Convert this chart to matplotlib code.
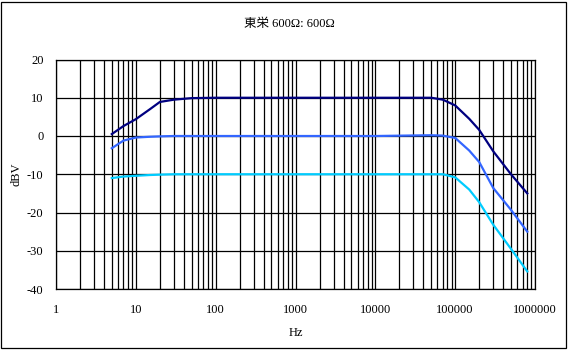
import matplotlib
matplotlib.use("Agg")
import matplotlib.pyplot as plt
from matplotlib.patches import Rectangle
from matplotlib.ticker import LogLocator, FixedLocator, NullFormatter

plt.rcParams['font.family'] = ['Liberation Serif', 'Noto Sans CJK JP']
plt.rcParams['axes.unicode_minus'] = False

freq = [5, 7, 10, 15, 20, 30, 50, 100, 1000, 10000, 50000, 70000,
        100000, 150000, 200000, 300000, 500000, 800000]
navy = [0.5, 2.6, 4.4, 7.0, 8.9, 9.5, 9.9, 10.0, 10.0, 10.0, 10.0, 9.5,
        8.0, 4.5, 1.6, -4.0, -10.0, -15.0]
blue = [-3.2, -1.2, -0.4, -0.2, -0.1, 0.0, 0.0, 0.0, 0.0, 0.0, 0.2, 0.1,
        -0.5, -3.8, -6.8, -13.6, -19.3, -25.0]
cyan = [-11.0, -10.6, -10.4, -10.2, -10.1, -10.0, -10.0, -10.0, -10.0, -10.0, -10.0, -10.0,
        -10.8, -14.0, -17.3, -23.2, -29.5, -35.4]
xticks = [1, 10, 100, 1000, 10000, 100000, 1000000]
xticklabels = ["1", "10", "100", "1000", "10000", "100000", "1000000"]
yticks = [-40, -30, -20, -10, 0, 10, 20]

fig = plt.figure(figsize=(5.68, 3.5), dpi=100)
ax = fig.add_axes([56/568, 1-289/350, (535-56)/568, (289-59.5)/350])

ax.set_xscale('log')
ax.set_xlim(1, 1e6)
ax.set_ylim(-40, 20)

ax.plot(freq, navy, color='#000080', lw=1.6, zorder=3)
ax.plot(freq, blue, color='#3366FF', lw=1.6, zorder=3)
ax.plot(freq, cyan, color='#00CCFF', lw=1.6, zorder=3)

ax.xaxis.set_major_locator(FixedLocator(xticks))
ax.set_xticklabels(xticklabels)
ax.xaxis.set_minor_locator(LogLocator(base=10, subs=range(2, 10), numticks=20))
ax.xaxis.set_minor_formatter(NullFormatter())
ax.set_yticks(yticks)
ax.grid(which='major', axis='both', color='black', lw=0.9)
ax.grid(which='minor', axis='x', color='black', lw=0.9)
ax.tick_params(which='both', length=0, labelsize=9)
ax.tick_params(axis='y', pad=9)
ax.tick_params(axis='x', pad=11)
for s in ax.spines.values():
    s.set_color('black')
    s.set_linewidth(0.9)

ax.set_xlabel('Hz', fontsize=9, labelpad=8)
ax.set_ylabel('dBV', fontsize=9, labelpad=3)
fig.text(0.51, 1-24/350, '東栄 600Ω: 600Ω', ha='center', va='center', fontsize=9)

fig.patches.append(Rectangle((1/568, 2/350), 565/568, 346/350, transform=fig.transFigure,
                             fill=False, edgecolor='black', lw=0.9))

fig.savefig('out.png', dpi=100)
